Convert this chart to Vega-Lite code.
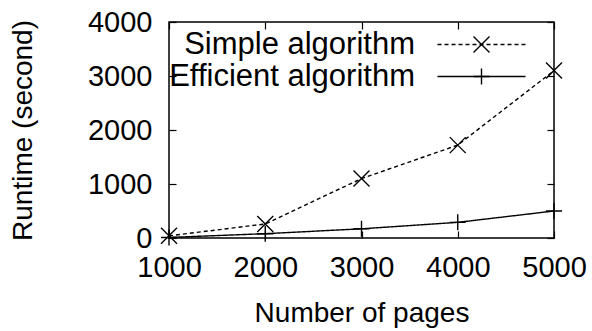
{
  "$schema": "https://vega.github.io/schema/vega-lite/v6.json",
  "width": 385,
  "height": 216,
  "autosize": {"type": "none"},
  "padding": {"left": 169, "top": 22, "right": 38, "bottom": 93},
  "background": "white",
  "config": {
    "font": "Liberation Sans",
    "view": {"stroke": "black", "strokeWidth": 1.5},
    "axis": {
      "domain": false,
      "grid": false,
      "ticks": true,
      "tickColor": "black",
      "tickSize": -7,
      "tickWidth": 1.2,
      "labelFont": "Liberation Sans",
      "labelFontSize": 29,
      "labelColor": "black",
      "labelFlush": false,
      "labelOverlap": false,
      "titleFont": "Liberation Sans",
      "titleFontSize": 28,
      "titleFontWeight": "normal",
      "titleColor": "black"
    },
    "legend": {
      "orient": "none",
      "title": null,
      "padding": 0,
      "rowPadding": 0,
      "labelFont": "Liberation Sans",
      "labelFontSize": 31,
      "labelColor": "black",
      "labelAlign": "right",
      "labelLimit": 400
    }
  },
  "data": {
    "values": [
      {"pages": 1000, "runtime": 40, "series": "Simple algorithm"},
      {"pages": 2000, "runtime": 260, "series": "Simple algorithm"},
      {"pages": 3000, "runtime": 1100, "series": "Simple algorithm"},
      {"pages": 4000, "runtime": 1720, "series": "Simple algorithm"},
      {"pages": 5000, "runtime": 3100, "series": "Simple algorithm"},
      {"pages": 1000, "runtime": 10, "series": "Efficient algorithm"},
      {"pages": 2000, "runtime": 80, "series": "Efficient algorithm"},
      {"pages": 3000, "runtime": 170, "series": "Efficient algorithm"},
      {"pages": 4000, "runtime": 290, "series": "Efficient algorithm"},
      {"pages": 5000, "runtime": 500, "series": "Efficient algorithm"}
    ]
  },
  "layer": [
    {
      "mark": {"type": "line", "color": "black", "strokeWidth": 1.4},
      "encoding": {
        "x": {
          "field": "pages",
          "type": "quantitative",
          "scale": {"domain": [1000, 5000], "nice": false},
          "axis": {
            "values": [1000, 2000, 3000, 4000, 5000],
            "format": "d",
            "title": "Number of pages",
            "labelPadding": 22,
            "titlePadding": 17
          }
        },
        "y": {
          "field": "runtime",
          "type": "quantitative",
          "scale": {"domain": [0, 4000], "nice": false},
          "axis": {
            "values": [0, 1000, 2000, 3000, 4000],
            "format": "d",
            "title": "Runtime (second)",
            "labelPadding": 24,
            "titlePadding": 50
          }
        },
        "strokeDash": {
          "field": "series",
          "type": "nominal",
          "scale": {
            "domain": ["Simple algorithm", "Efficient algorithm"],
            "range": [[4, 3], [1, 0]]
          },
          "legend": {
            "legendX": 297,
            "legendY": 7,
            "symbolType": "M-5.5,0H5.5",
            "symbolSize": 256,
            "symbolStrokeColor": "black",
            "symbolStrokeWidth": 1.4,
            "labelOffset": -82
          }
        }
      }
    },
    {
      "mark": {"type": "point", "color": "black", "filled": false, "opacity": 1, "size": 256, "strokeWidth": 1.4},
      "encoding": {
        "x": {
          "field": "pages",
          "type": "quantitative",
          "axis": {"orient": "top", "values": [1000, 2000, 3000, 4000, 5000], "labels": false, "title": null}
        },
        "y": {
          "field": "runtime",
          "type": "quantitative",
          "axis": {"orient": "right", "values": [0, 1000, 2000, 3000, 4000], "labels": false, "title": null}
        },
        "shape": {
          "field": "series",
          "type": "nominal",
          "scale": {
            "domain": ["Efficient algorithm", "Simple algorithm"],
            "range": ["M0,-1L0,1M-1,0L1,0", "M-1,-1L1,1M1,-1L-1,1"]
          },
          "legend": {
            "values": ["Simple algorithm", "Efficient algorithm"],
            "legendX": 297,
            "legendY": 7,
            "symbolSize": 256,
            "symbolStrokeColor": "black",
            "symbolFillColor": "transparent",
            "symbolStrokeWidth": 1.4,
            "labelOffset": -82,
            "labelOpacity": 0
          }
        }
      }
    }
  ],
  "resolve": {"axis": {"x": "independent", "y": "independent"}}
}
